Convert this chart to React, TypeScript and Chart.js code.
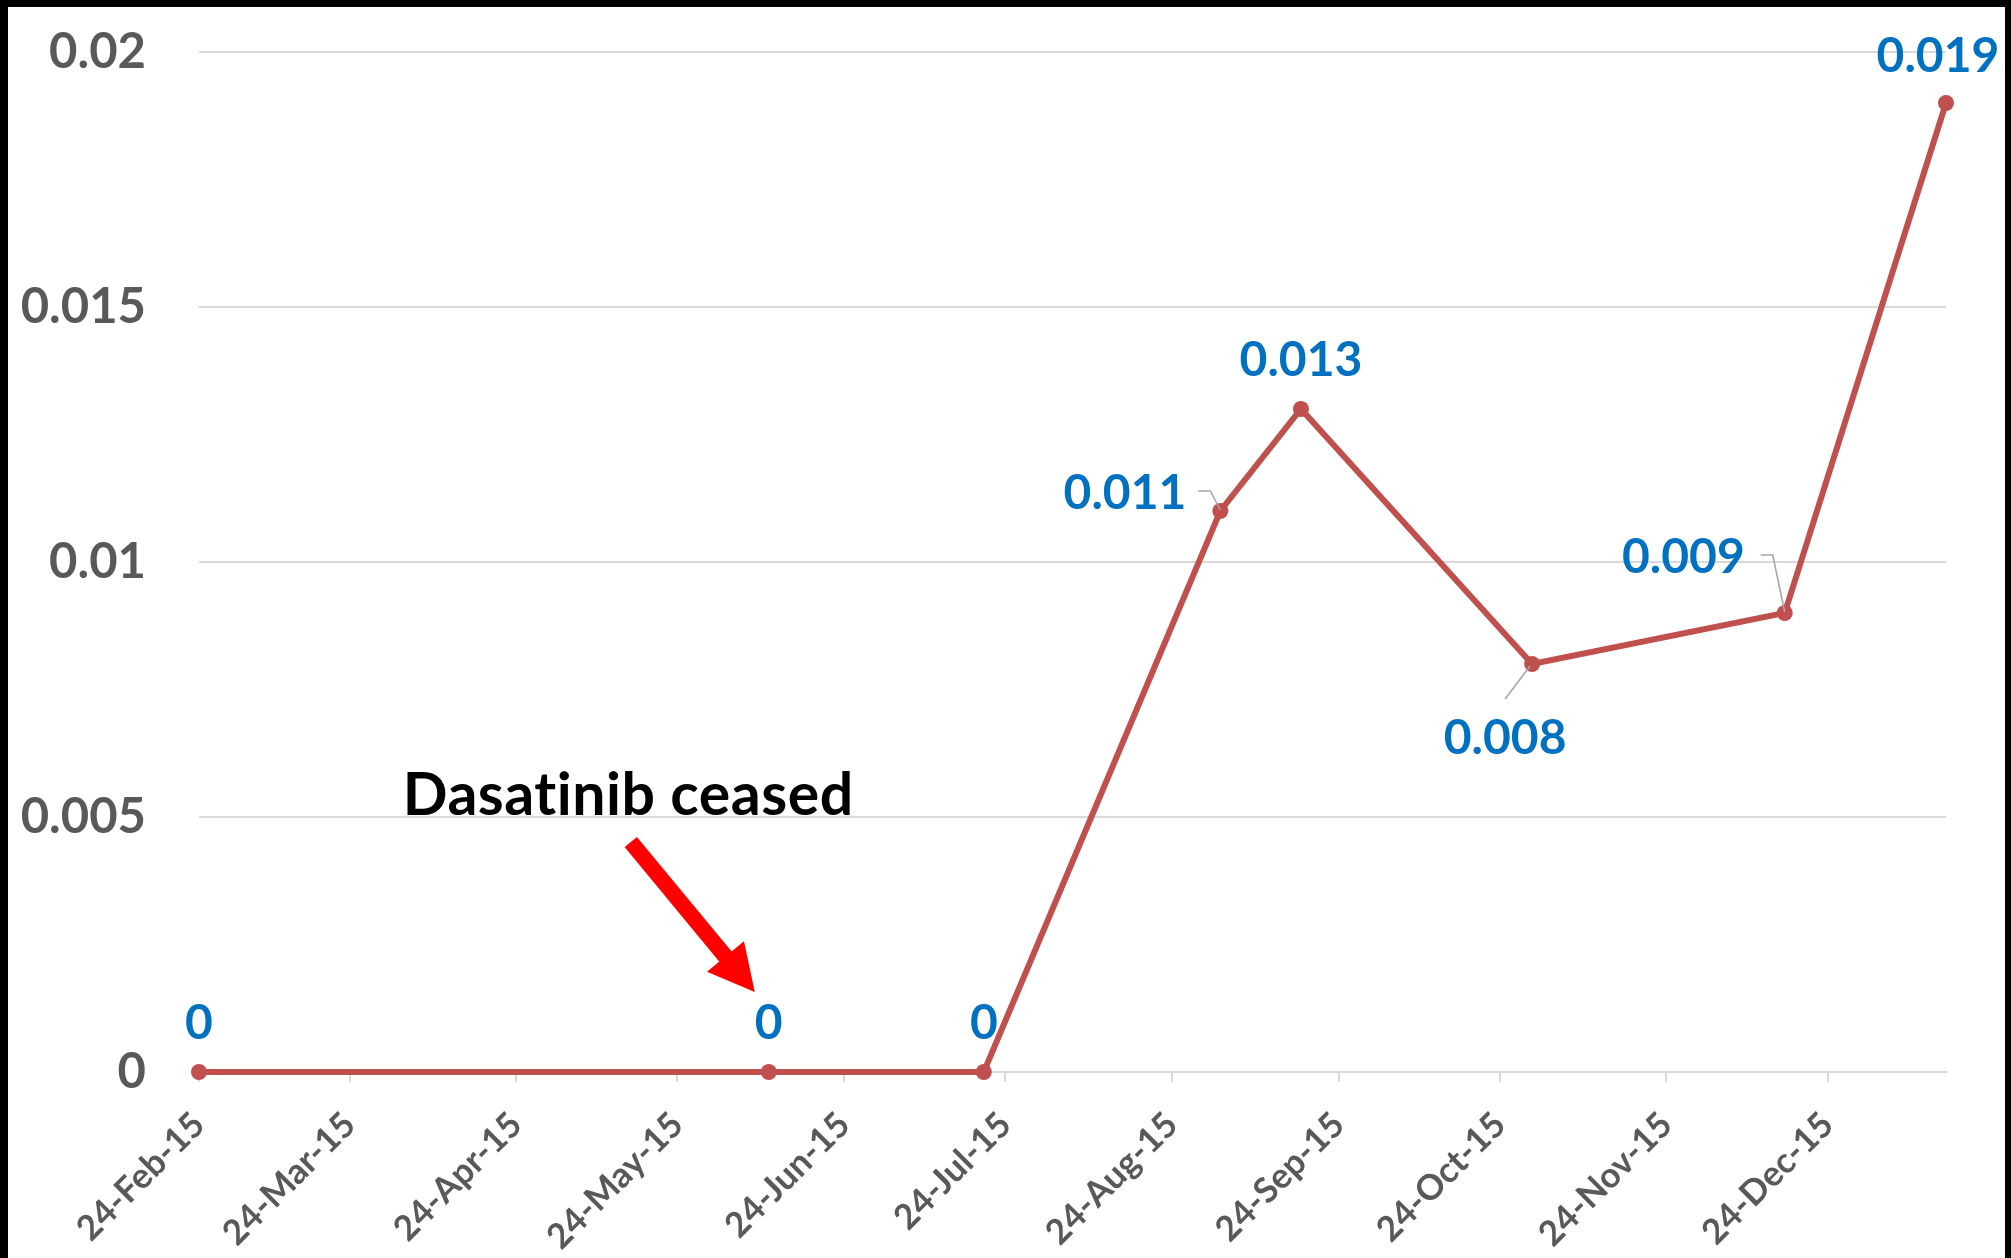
import React, { useEffect, useRef } from "react";
import { Chart, registerables } from "chart.js";

Chart.register(...registerables);

// ---- Data ----
const sampleDates = [
  "2015-02-24",
  "2015-06-10",
  "2015-07-20",
  "2015-09-02",
  "2015-09-17",
  "2015-10-30",
  "2015-12-16",
  "2016-01-15",
];
const sampleValues = [0, 0, 0, 0.011, 0.013, 0.008, 0.009, 0.019];
const valueLabels = ["0", "0", "0", "0.011", "0.013", "0.008", "0.009", "0.019"];

const tickDates = [
  "2015-02-24",
  "2015-03-24",
  "2015-04-24",
  "2015-05-24",
  "2015-06-24",
  "2015-07-24",
  "2015-08-24",
  "2015-09-24",
  "2015-10-24",
  "2015-11-24",
  "2015-12-24",
];
const tickLabels = [
  "24-Feb-15",
  "24-Mar-15",
  "24-Apr-15",
  "24-May-15",
  "24-Jun-15",
  "24-Jul-15",
  "24-Aug-15",
  "24-Sep-15",
  "24-Oct-15",
  "24-Nov-15",
  "24-Dec-15",
];
const yTickValues = [0, 0.005, 0.01, 0.015, 0.02];

const annotationText = "Dasatinib ceased";
const annotatedIndex = 1;

// ---- Label placement (style, not data) ----
type Placement = { dx: number; dy: number; align: CanvasTextAlign; leader?: number[][] };
const labelPlacement: Placement[] = [
  { dx: 0, dy: -33, align: "center" },
  { dx: 0, dy: -33, align: "center" },
  { dx: 0, dy: -33, align: "center" },
  { dx: -34, dy: -2, align: "right", leader: [[-22, -20], [-10, -20], [0, -1]] },
  { dx: 0, dy: -33, align: "center" },
  { dx: -27, dy: 90, align: "center", leader: [[-27, 35], [-2, 2]] },
  { dx: -40, dy: -40, align: "right", leader: [[-24, -58], [-12, -58], [0, -1]] },
  { dx: -8, dy: -31, align: "center" },
];

const FONT = "Lato, 'Open Sans', 'Liberation Sans', sans-serif";
const LINE_COLOR = "#C0504D";
const LABEL_BLUE = "#0070C0";
const AXIS_TEXT = "#595959";
const GRID = "#D9D9D9";

const DAY = 86400000;
const toUTC = (s: string) => {
  const [y, m, d] = s.split("-").map(Number);
  return Date.UTC(y, m - 1, d);
};
const origin = toUTC(sampleDates[0]);
const toDay = (s: string) => Math.round((toUTC(s) - origin) / DAY);

const xValues = sampleDates.map(toDay);
const tickDays = tickDates.map(toDay);

const annotPlugin = {
  id: "annotPlugin",
  afterDatasetsDraw(chart: any) {
    const ctx: any = chart.ctx;
    const meta = chart.getDatasetMeta(0);
    ctx.save();
    meta.data.forEach((pt: any, i: number) => {
      const p = labelPlacement[i];
      if (p.leader) {
        ctx.beginPath();
        ctx.strokeStyle = "#A6A6A6";
        ctx.lineWidth = 1.6;
        p.leader.forEach(([lx, ly], k) => {
          if (k === 0) ctx.moveTo(pt.x + lx, pt.y + ly);
          else ctx.lineTo(pt.x + lx, pt.y + ly);
        });
        ctx.stroke();
      }
      ctx.font = `bold 48px ${FONT}`;
      ctx.fillStyle = LABEL_BLUE;
      ctx.textAlign = p.align;
      ctx.textBaseline = "alphabetic";
      ctx.fillText(valueLabels[i], pt.x + p.dx, pt.y + p.dy);
    });

    const ap = meta.data[annotatedIndex];
    const tail = { x: ap.x - 138, y: ap.y - 230 };
    const tip = { x: ap.x - 14, y: ap.y - 80 };
    const dx = tip.x - tail.x;
    const dy = tip.y - tail.y;
    const len = Math.hypot(dx, dy);
    const ux = dx / len;
    const uy = dy / len;
    const headLen = 46;
    const headHalf = 24;
    const base = { x: tip.x - ux * headLen, y: tip.y - uy * headLen };
    ctx.strokeStyle = "#FF0000";
    ctx.fillStyle = "#FF0000";
    ctx.lineWidth = 16;
    ctx.lineCap = "butt";
    ctx.beginPath();
    ctx.moveTo(tail.x, tail.y);
    ctx.lineTo(base.x + ux * 2, base.y + uy * 2);
    ctx.stroke();
    ctx.beginPath();
    ctx.moveTo(tip.x, tip.y);
    ctx.lineTo(base.x - uy * headHalf, base.y + ux * headHalf);
    ctx.lineTo(base.x + uy * headHalf, base.y - ux * headHalf);
    ctx.closePath();
    ctx.fill();

    ctx.font = `bold 59px ${FONT}`;
    ctx.fillStyle = "#000000";
    ctx.textAlign = "left";
    ctx.textBaseline = "alphabetic";
    try {
      ctx.letterSpacing = "0.5px";
    } catch (e) {}
    ctx.fillText(annotationText, ap.x - 366, ap.y - 257);
    ctx.restore();
  },
};

export default function App() {
  const canvasRef = useRef<HTMLCanvasElement | null>(null);

  useEffect(() => {
    if (!canvasRef.current) return;
    const chart = new Chart(canvasRef.current, {
      type: "line",
      data: {
        datasets: [
          {
            data: xValues.map((x, i) => ({ x, y: sampleValues[i] })),
            borderColor: LINE_COLOR,
            backgroundColor: LINE_COLOR,
            borderWidth: 6,
            pointRadius: 8,
            pointBorderWidth: 0,
            pointBackgroundColor: LINE_COLOR,
            tension: 0,
            clip: false as any,
          },
        ],
      },
      options: {
        animation: false,
        responsive: false,
        devicePixelRatio: 1,
        layout: { padding: { left: 0, right: 59, top: 45, bottom: 0 } },
        plugins: {
          legend: { display: false },
          tooltip: { enabled: false },
          title: { display: false },
        },
        scales: {
          x: {
            type: "linear",
            min: xValues[0],
            max: xValues[xValues.length - 1],
            afterBuildTicks: (scale: any) => {
              scale.ticks = tickDays.map((v) => ({ value: v }));
            },
            afterFit: (scale: any) => {
              scale.height = 186;
              scale.paddingLeft = 0;
              scale.paddingRight = 0;
              scale.paddingTop = 0;
              scale.paddingBottom = 0;
            },
            grid: {
              drawOnChartArea: false,
              drawTicks: true,
              tickLength: 10,
              color: GRID,
              lineWidth: 2,
            },
            border: { display: true, color: GRID, width: 2 },
            ticks: {
              autoSkip: false,
              minRotation: 45,
              maxRotation: 45,
              padding: 22,
              color: AXIS_TEXT,
              font: { family: FONT, size: 35, weight: "bold" },
              callback: (_v: any, i: number) => tickLabels[i],
            },
          },
          y: {
            type: "linear",
            min: yTickValues[0],
            max: yTickValues[yTickValues.length - 1],
            afterBuildTicks: (scale: any) => {
              scale.ticks = yTickValues.map((v) => ({ value: v }));
            },
            afterFit: (scale: any) => {
              scale.width = 191;
              scale.paddingLeft = 0;
              scale.paddingRight = 0;
              scale.paddingTop = 0;
              scale.paddingBottom = 0;
            },
            grid: {
              color: GRID,
              lineWidth: 2,
              drawTicks: false,
            },
            border: { display: false },
            ticks: {
              padding: 53,
              color: AXIS_TEXT,
              font: { family: FONT, size: 49, weight: "bold" },
              callback: (v: any) => String(v),
            },
          },
        },
      },
      plugins: [annotPlugin],
    } as any);
    return () => chart.destroy();
  }, []);

  return (
    <div
      style={{
        position: "fixed",
        left: 0,
        top: 0,
        width: 2011,
        height: 1258,
        background: "#000",
        overflow: "hidden",
      }}
    >
      <canvas
        ref={canvasRef}
        width={1997}
        height={1251}
        style={{
          position: "absolute",
          left: 8,
          top: 7,
          width: 1997,
          height: 1251,
          background: "#fff",
          display: "block",
        }}
      />
    </div>
  );
}
